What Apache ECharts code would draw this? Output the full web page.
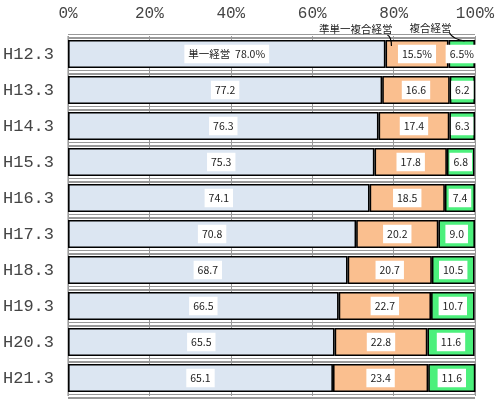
<!DOCTYPE html>
<html>
<head>
<meta charset="utf-8">
<script src="https://cdn.jsdelivr.net/npm/echarts@6/dist/echarts.min.js"></script>
<style>
  html, body { margin: 0; padding: 0; background: #fff; }
  #chart { width: 500px; height: 404px; }
</style>
</head>
<body>
<div id="chart"></div>
<script>
const years = ['H12.3', 'H13.3', 'H14.3', 'H15.3', 'H16.3', 'H17.3', 'H18.3', 'H19.3', 'H20.3', 'H21.3']
const tanitsu = [78.0, 77.2, 76.3, 75.3, 74.1, 70.8, 68.7, 66.5, 65.5, 65.1]
const juntanitsu = [15.5, 16.6, 17.4, 17.8, 18.5, 20.2, 20.7, 22.7, 22.8, 23.4]
const fukugou = [6.5, 6.2, 6.3, 6.8, 7.4, 9.0, 10.5, 10.7, 11.6, 11.6]
const xTicks = [0, 20, 40, 60, 80, 100]

const myChart = echarts.init(document.getElementById('chart'))

const labelBase = {
	show: true,
	position: 'inside',
	color: '#222',
	fontSize: 10.5,
	fontFamily: 'Noto Sans CJK JP',
	backgroundColor: '#fff',
	padding: [4, 4]
}

// first row carries the names / percent signs
function fmt(name) {
	return function (p) {
		if (p.dataIndex === 0)
			return (name ? name + '  ' : '') + p.value.toFixed(1) + '%'
		return p.value.toFixed(1)
	}
}

function bar(name, data, color, labelName) {
	return {
		name: name,
		type: 'bar',
		stack: 'total',
		barWidth: 28,
		z: 5,
		data: data,
		itemStyle: { color: color, borderColor: '#000', borderWidth: 1.6 },
		label: Object.assign({}, labelBase, { formatter: fmt(labelName) })
	}
}

myChart.setOption({
	animation: false,
	grid: { left: 67, right: 25, top: 36, bottom: 8, show: true, borderColor: '#888', borderWidth: 1 },
	xAxis: {
		type: 'value',
		position: 'top',
		min: 0,
		max: 100,
		interval: 20,
		z: 3,
		axisLine: { show: false },
		axisTick: { show: false },
		axisLabel: {
			margin: 14,
			fontSize: 16,
			fontFamily: 'Liberation Mono',
			color: '#444',
			formatter: (v) => xTicks.indexOf(v) >= 0 ? v + '%' : ''
		},
		splitLine: { show: true, lineStyle: { color: '#999', width: 1 } }
	},
	yAxis: [
		{
			type: 'category',
			data: years,
			inverse: true,
			z: 1,
			axisLine: { show: false },
			axisTick: { show: false },
			axisLabel: { margin: 14, fontSize: 17, fontFamily: 'Liberation Mono', color: '#444' },
			splitLine: { show: true, lineStyle: { color: '#999', width: 5 } }
		},
		{
			type: 'category',
			data: years,
			inverse: true,
			position: 'left',
			z: 2,
			axisLine: { show: false },
			axisTick: { show: false },
			axisLabel: { show: false },
			splitLine: { show: true, lineStyle: { color: '#fff', width: 2 } }
		}
	],
	series: [
		bar('単一経営', tanitsu, '#dce6f2', '単一経営'),
		bar('準単一複合経営', juntanitsu, '#fabf8f', ''),
		bar('複合経営', fukugou, '#4cf07c', '')
	]
})

// callout names above the first row, placed from the axis scales
const rowTop = myChart.convertToPixel({ yAxisIndex: 0 }, years[0]) - 14
const semiX = myChart.convertToPixel({ xAxisIndex: 0 }, tanitsu[0])
const compX = myChart.convertToPixel({ xAxisIndex: 0 }, tanitsu[0] + juntanitsu[0])
const calloutFont = { fontSize: 10.5, fontFamily: 'Noto Sans CJK JP', fill: '#222' }

myChart.setOption({
	graphic: [
		{ type: 'text', z: 10, x: semiX + 7, y: rowTop - 11, style: Object.assign({ text: '準単一複合経営', align: 'right', verticalAlign: 'middle' }, calloutFont) },
		{ type: 'text', z: 10, x: compX - 39, y: rowTop - 12, style: Object.assign({ text: '複合経営', align: 'left', verticalAlign: 'middle' }, calloutFont) },
		{
			type: 'bezierCurve', z: 10,
			shape: { x1: semiX + 2, y1: rowTop - 5, cpx1: semiX + 6, cpy1: rowTop - 3, x2: semiX + 6, y2: rowTop + 6 },
			style: { stroke: '#000', lineWidth: 1.2 }
		},
		{
			type: 'bezierCurve', z: 10,
			shape: { x1: compX + 1, y1: rowTop - 7, cpx1: compX + 4, cpy1: rowTop - 1, x2: compX + 16, y2: rowTop + 1 },
			style: { stroke: '#000', lineWidth: 1.2 }
		}
	]
})
</script>
</body>
</html>
